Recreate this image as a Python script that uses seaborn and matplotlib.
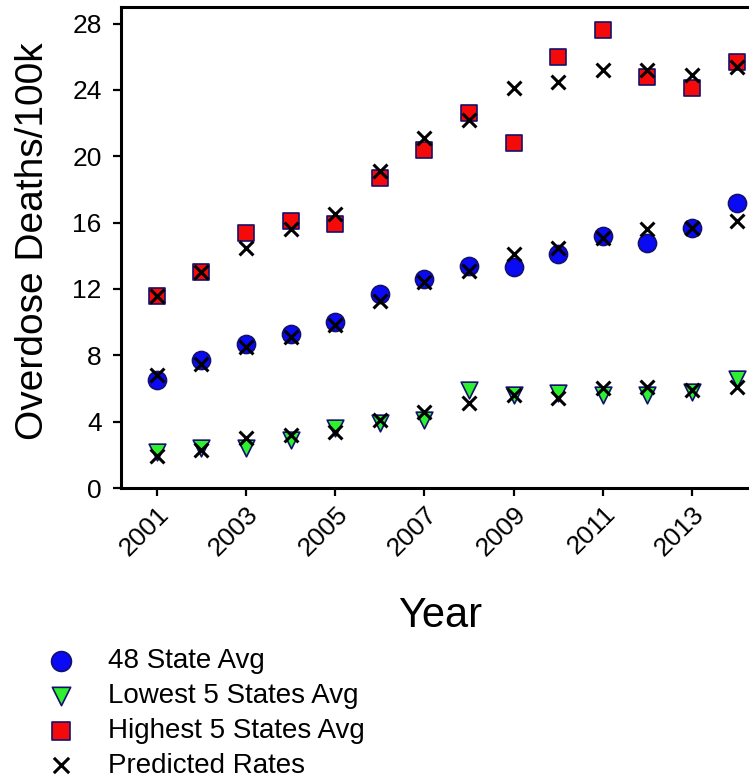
import numpy as np
import pandas as pd
import matplotlib
matplotlib.use("Agg")
import matplotlib.pyplot as plt
import seaborn as sns

years = list(range(2001, 2015))

avg48 = [6.5, 7.7, 8.7, 9.3, 10.0, 11.7, 12.6, 13.4, 13.3, 14.1, 15.2, 14.8, 15.7, 17.2]
lowest5 = [2.2, 2.4, 2.4, 2.9, 3.6, 3.9, 4.1, 5.9, 5.6, 5.7, 5.6, 5.6, 5.8, 6.6]
highest5 = [11.6, 13.0, 15.4, 16.1, 15.9, 18.7, 20.4, 22.6, 20.8, 26.0, 27.6, 24.8, 24.1, 25.7]

pred_avg48 = [6.8, 7.5, 8.5, 9.1, 9.8, 11.3, 12.4, 13.1, 14.1, 14.5, 15.1, 15.6, 15.7, 16.1]
pred_low5 = [1.9, 2.3, 3.0, 3.2, 3.4, 4.1, 4.6, 5.1, 5.6, 5.4, 6.0, 6.1, 5.9, 6.1]
pred_high5 = [11.6, 13.0, 14.5, 15.6, 16.5, 19.1, 21.1, 22.2, 24.1, 24.5, 25.2, 25.2, 24.9, 25.4]

x_ticks = [2001, 2003, 2005, 2007, 2009, 2011, 2013]
y_ticks = [0, 4, 8, 12, 16, 20, 24, 28]

sns.set_style("white")
plt.rcParams["font.family"] = ["Liberation Sans", "DejaVu Sans"]
plt.rcParams["text.color"] = "black"
plt.rcParams["axes.labelcolor"] = "black"
plt.rcParams["xtick.color"] = "black"
plt.rcParams["ytick.color"] = "black"

fig = plt.figure(figsize=(7.49, 7.79), dpi=100)
ax = fig.add_axes([121 / 749, 1 - 488 / 779, 638 / 749, 481 / 779])

edge = "#14106e"
sns.scatterplot(x=years, y=avg48, ax=ax, marker="o", s=13 ** 2, color="#0a0af5",
                edgecolor=edge, linewidth=1.2, label="48 State Avg", zorder=3)
sns.scatterplot(x=years, y=lowest5, ax=ax, marker="v", s=12 ** 2, color="#2ef02e",
                edgecolor=edge, linewidth=1.2, label="Lowest 5 States Avg", zorder=3)
sns.scatterplot(x=years, y=highest5, ax=ax, marker="s", s=11.5 ** 2, color="#f50a0a",
                edgecolor=edge, linewidth=1.2, label="Highest 5 States Avg", zorder=3)

# predicted rates for all three groups share one marker
pred_x = years * 3
pred_y = pred_high5 + pred_avg48 + pred_low5
sns.scatterplot(x=pred_x, y=pred_y, ax=ax, marker="x", s=10 ** 2, color="black",
                linewidth=2.2, label="Predicted Rates", zorder=4)

ax.set_xlim(2000.2, 2014.5)
ax.set_ylim(0, 29)
ax.set_xticks(x_ticks)
ax.set_yticks(y_ticks)
ax.set_xticklabels([str(t) for t in x_ticks], rotation=45, ha="right",
                   rotation_mode="anchor", fontsize=19)
ax.set_yticklabels([str(t) for t in y_ticks], fontsize=19)

for side in ["left", "bottom", "top"]:
    ax.spines[side].set_linewidth(2.2)
    ax.spines[side].set_color("black")
ax.spines["right"].set_visible(False)
ax.tick_params(axis="both", which="both", direction="out", length=6, width=1.6,
               color="black", labelcolor="black",
               left=True, bottom=True, top=False, right=False)
ax.tick_params(axis="x", pad=4)
ax.tick_params(axis="y", pad=8)

ax.set_xlabel("Year", fontsize=30)
ax.set_ylabel("Overdose Deaths/100k", fontsize=28)
ax.xaxis.set_label_coords((440 - 121) / 638, (488 - 596) / 481)
ax.yaxis.set_label_coords((51 - 121) / 638, (488 - 241) / 481)

handles, labels = ax.get_legend_handles_labels()
ax.get_legend().remove()
fig.legend(handles, labels, loc="upper left", bbox_to_anchor=(22 / 749, 1 - 637 / 779),
           frameon=False, fontsize=20, labelspacing=0.32, handlelength=2.0,
           handletextpad=0.7, borderaxespad=0, borderpad=0.4, markerscale=1.1)

fig.savefig("out.png", dpi=100)
